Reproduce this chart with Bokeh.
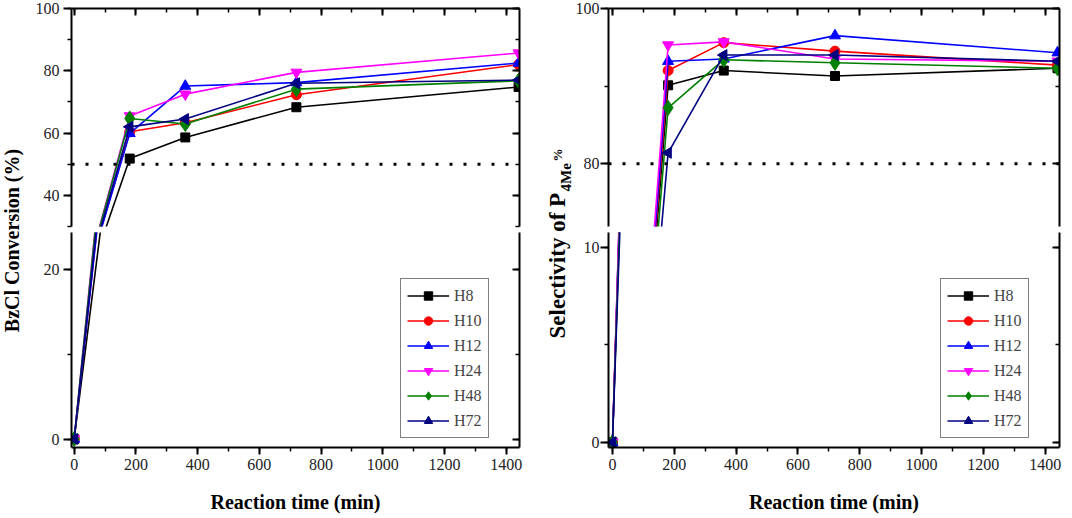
import math
from bokeh.plotting import figure
from bokeh.layouts import row, column
from bokeh.models import (Range1d, LinearAxis, SingleIntervalTicker, Span, Label,
                          Legend, LegendItem, ColumnDataSource)
from bokeh.embed import file_html
from bokeh.resources import INLINE

# ---------------- data ----------------
time_min = [0, 180, 360, 720, 1440]
series_names = ["H8", "H10", "H12", "H24", "H48", "H72"]

conv_H8 = [0, 51.8, 58.6, 68.3, 74.8]
conv_H10 = [0, 60.4, 63.3, 72.3, 82.0]
conv_H12 = [0, 59.9, 75.1, 76.2, 82.5]
conv_H24 = [0, 65.5, 72.5, 79.5, 85.7]
conv_H48 = [0, 64.7, 62.9, 74.1, 76.8]
conv_H72 = [0, 62.0, 64.5, 76.0, 77.0]

sel_H8 = [0, 90.1, 92.0, 91.3, 92.3]
sel_H10 = [0, 92.0, 95.6, 94.5, 92.7]
sel_H12 = [0, 93.2, 93.5, 96.5, 94.3]
sel_H24 = [0, 95.3, 95.7, 93.5, 93.2]
sel_H48 = [0, 87.2, 93.4, 93.0, 92.3]
sel_H72 = [0, 81.4, 94.0, 94.0, 93.2]

conv_threshold = 50
sel_threshold = 80

conv_series = [conv_H8, conv_H10, conv_H12, conv_H24, conv_H48, conv_H72]
sel_series = [sel_H8, sel_H10, sel_H12, sel_H24, sel_H48, sel_H72]

# ---------------- style ----------------
colors = ["#000000", "#FF0000", "#0000FF", "#FF00FF", "#008000", "#000080"]
markers = [("square", 0.0, 9), ("circle", 0.0, 10), ("triangle", 0.0, 11),
           ("inverted_triangle", 0.0, 11), ("diamond", 0.0, 15),
           ("triangle", math.pi / 2, 11)]

SERIF = "Liberation Serif"
TOP_B = 8
GAP = 6
BOT_B = 71
TOP_FRAME = 218
BOT_FRAME = 215
TOTAL_H = TOP_B + TOP_FRAME + GAP + BOT_FRAME + BOT_B


def style_axis(ax, labels=True, inward=False, major=7, minor=4, standoff=3):
    ax.axis_line_width = 2
    ax.axis_line_color = "black"
    ax.major_tick_line_width = 2
    ax.minor_tick_line_width = 1.5
    ax.major_tick_line_color = "black"
    ax.minor_tick_line_color = "black"
    if inward:
        ax.major_tick_in, ax.major_tick_out = major, 0
        ax.minor_tick_in, ax.minor_tick_out = minor, 0
    else:
        ax.major_tick_in, ax.major_tick_out = 0, major
        ax.minor_tick_in, ax.minor_tick_out = 0, minor
    if labels:
        ax.major_label_text_font = SERIF
        ax.major_label_text_font_size = "16px"
        ax.major_label_text_color = "#222222"
        ax.major_label_standoff = standoff
    else:
        ax.major_label_text_color = None
        ax.major_label_standoff = 0


def base_fig(width, height, xr, yr, mbl, mbr, mbt, mbb, top):
    p = figure(width=width, height=height, x_range=xr, y_range=yr,
               x_axis_location="above" if top else "below",
               toolbar_location=None, output_backend="svg",
               min_border_left=mbl, min_border_right=mbr,
               min_border_top=mbt, min_border_bottom=mbb)
    p.grid.visible = False
    p.outline_line_color = None
    p.background_fill_color = "white"
    p.border_fill_color = "white"
    return p


def draw_series(p, series, legend_x=None):
    items = []
    for name, ys, c, (mk, ang, sz) in zip(series_names, series, colors, markers):
        src = ColumnDataSource(dict(t=time_min, v=ys, ang=[ang] * len(time_min)))
        lr = p.line("t", "v", source=src, line_color=c, line_width=1.6)
        sr = p.scatter("t", "v", source=src, marker=mk, angle="ang", size=sz,
                       fill_color=c, line_color=c)
        items.append(LegendItem(label=name, renderers=[lr, sr], index=1))
    if legend_x is not None:
        lg = Legend(items=items, location=(legend_x, 9))
        lg.border_line_color = "black"
        lg.border_line_width = 1.5
        lg.background_fill_color = "white"
        lg.background_fill_alpha = 1.0
        lg.label_text_font = SERIF
        lg.label_text_font_size = "16px"
        lg.glyph_width = 42
        lg.glyph_height = 21
        lg.label_height = 21
        lg.label_standoff = 5
        lg.spacing = 4
        lg.padding = 6
        lg.margin = 0
        p.add_layout(lg)


def make_panel(series, threshold, x_lim, top_lim, bot_lim, top_int, bot_int,
               mbl, frame_w, mbr, legend_x, y_standoff):
    xr = Range1d(*x_lim)
    yr_top = Range1d(*top_lim)
    yr_bot = Range1d(*bot_lim)
    width = mbl + frame_w + mbr
    xt = SingleIntervalTicker(interval=200, num_minor_ticks=2)

    # upper segment
    pt = base_fig(width, TOP_B + TOP_FRAME + GAP, xr, yr_top, mbl, mbr, TOP_B, GAP, True)
    tt = SingleIntervalTicker(interval=top_int, num_minor_ticks=2)
    pt.yaxis.ticker = tt
    pt.xaxis.ticker = xt
    style_axis(pt.yaxis[0], labels=True, inward=False, major=8, standoff=y_standoff)
    style_axis(pt.xaxis[0], labels=False, inward=True)
    rax = LinearAxis(ticker=tt)
    style_axis(rax, labels=False, inward=True)
    pt.add_layout(rax, "right")
    pt.add_layout(Span(location=threshold, dimension="width", line_color="black",
                       line_width=3, line_dash="3 11"))
    draw_series(pt, series)

    # lower segment
    pb = base_fig(width, BOT_FRAME + BOT_B, xr, yr_bot, mbl, mbr, 0, BOT_B, False)
    bt = SingleIntervalTicker(interval=bot_int, num_minor_ticks=2)
    pb.yaxis.ticker = bt
    pb.xaxis.ticker = xt
    style_axis(pb.yaxis[0], labels=True, inward=False, major=8, standoff=y_standoff)
    style_axis(pb.xaxis[0], labels=True, inward=False, standoff=4)
    pb.xaxis.axis_label = "Reaction time (min)"
    pb.xaxis.axis_label_text_font = SERIF
    pb.xaxis.axis_label_text_font_style = "bold"
    pb.xaxis.axis_label_text_font_size = "20px"
    pb.xaxis.axis_label_text_color = "black"
    pb.xaxis.axis_label_standoff = 18
    rax2 = LinearAxis(ticker=bt)
    style_axis(rax2, labels=False, inward=True)
    pb.add_layout(rax2, "right")
    draw_series(pb, series, legend_x=legend_x)
    return column(pt, pb, spacing=0)


def label_fig(width):
    p = figure(width=width, height=TOTAL_H, x_range=Range1d(0, width),
               y_range=Range1d(0, TOTAL_H), x_axis_type=None, y_axis_type=None,
               toolbar_location=None, output_backend="svg", min_border=0)
    p.grid.visible = False
    p.outline_line_color = None
    p.border_fill_color = "white"
    p.background_fill_color = "white"
    return p


# left y label
lab_l = label_fig(32)
lab_l.add_layout(Label(x=11, y=278, text="BzCl Conversion (%)", angle=math.pi / 2,
                       text_align="center", text_baseline="middle", text_font=SERIF,
                       text_font_style="bold", text_font_size="20px", text_color="black"))

# right y label (with subscript)
lab_r = label_fig(41)
lab_r.add_layout(Label(x=26, y=180, text="Selectivity of P", angle=math.pi / 2,
                       text_align="left", text_baseline="alphabetic", text_font=SERIF,
                       text_font_style="bold", text_font_size="23px", text_color="black"))
lab_r.add_layout(Label(x=34, y=327, text="4Me", angle=math.pi / 2,
                       text_align="left", text_baseline="alphabetic", text_font=SERIF,
                       text_font_style="bold", text_font_size="15px", text_color="black"))
lab_r.add_layout(Label(x=26, y=357, text="%", angle=math.pi / 2,
                       text_align="left", text_baseline="alphabetic", text_font=SERIF,
                       text_font_style="bold", text_font_size="13px", text_color="black"))

left_panel = make_panel(conv_series, conv_threshold, (-8.7, 1443), (30.0, 100),
                        (-1.0, 24.3), 20, 20, 37, 450, 12, 329, 4)
right_panel = make_panel(sel_series, sel_threshold, (-12.9, 1446.5), (71.9, 100),
                         (-0.27, 10.75), 20, 10, 35, 452, 13, 332, 1)

layout = row(lab_l, left_panel, lab_r, right_panel, spacing=0)

open("out.html", "w").write(file_html(layout, INLINE))
